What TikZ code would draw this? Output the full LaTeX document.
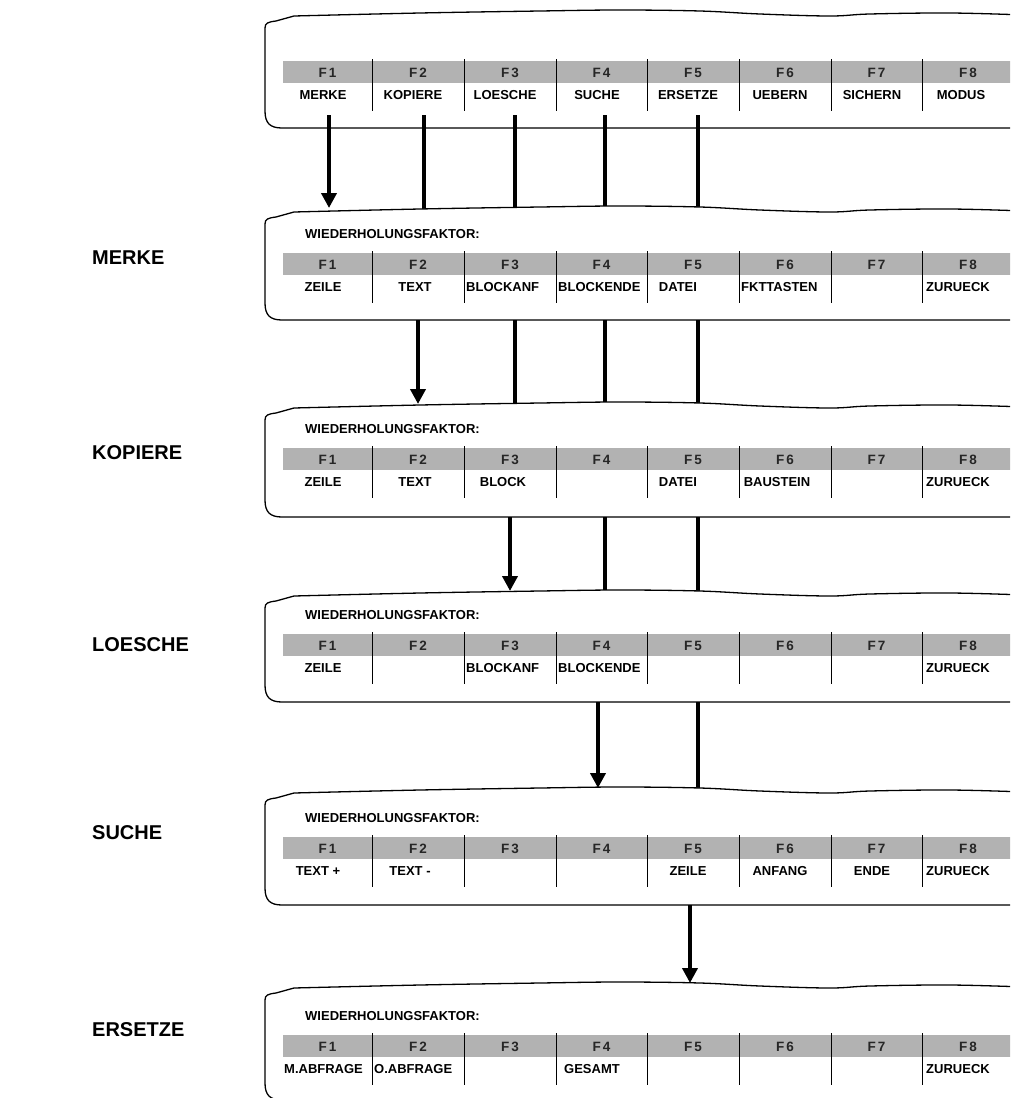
\documentclass[tikz,border=0pt]{standalone}
\usepackage{fontspec}
\setmainfont{Liberation Sans}
\usetikzlibrary{arrows.meta}

\tikzset{
  frame/.style={line width=1.3pt, line join=round, fill=white},
  divider/.style={line width=1pt},
  keytxt/.style={font=\bfseries\fontsize{13}{15}\selectfont, inner sep=0pt},
  fkey/.style={font=\bfseries\fontsize{13.5}{15}\selectfont, inner sep=0pt, anchor=base, text=black!85},
  side/.style={font=\bfseries\fontsize{20}{24}\selectfont, anchor=west, inner sep=0pt},
  flow/.style={line width=4.5pt},
  flowarrow/.style={line width=4.5pt, -{Triangle[width=15pt,length=15pt]}},
  keyshade/.style={fill=black!30},
}

% screen outline: #1 top, #2 bottom
\newcommand\screenframe[2]{%
  \draw[frame] (265,#1+18) .. controls (265,#1+13) and (268,#1+12) .. (276,#1+11)
    -- (294,#1+6)
    -- plot[smooth, tension=0.6] coordinates {(294,#1+6) (420,#1+3) (540,#1+1) (620,#1)
       (700,#1+1) (760,#1+4) (830,#1+6) (870,#1+4) (950,#1+3) (1025,#1+5)}
    -- (1025,#2) -- (282,#2) .. controls (270,#2) and (265,#2-5) .. (265,#2-17) -- cycle;
}

% function key strip: #1 top of the shaded row
\newcommand\keystrip[1]{%
  \fill[keyshade] (283,#1) rectangle (1025,#1+22);
  \foreach \x in {372,464,556,647,739,831,922}
    \draw[divider] (\x,#1-2) -- (\x,#1+50);
  \foreach \c [count=\i] in {327.5,418,510,601.5,693,785,876.5,968}
    \node[fkey] at (\c,#1+16) {F\kern2pt\i};
}

\newcommand\keylabel[3]{\node[keytxt] at (#1,#2+34) {#3};}
\newcommand\keylabelL[3]{\node[keytxt, anchor=west] at (#1,#2+34) {#3};}
\newcommand\factor[1]{\node[keytxt, anchor=west] at (305,#1-19) {WIEDERHOLUNGSFAKTOR:};}

\begin{document}
\begin{tikzpicture}[x=1pt, y=-1pt]
\useasboundingbox (0,0) rectangle (1010,1098);
\clip (0,0) rectangle (1010,1098);

% main menu
\screenframe{10}{128}
\keystrip{61}
\keylabel{323}{61}{MERKE}
\keylabel{413}{61}{KOPIERE}
\keylabel{505}{61}{LOESCHE}
\keylabel{597}{61}{SUCHE}
\keylabel{688}{61}{ERSETZE}
\keylabel{780}{61}{UEBERN}
\keylabel{872}{61}{SICHERN}
\keylabel{961}{61}{MODUS}
\foreach \x [count=\i] in {424,515,605,698} {
  \coordinate (m\i) at (\x,115); \coordinate (n\i) at (\x,214);
  \draw[flow] (m\i) -- (n\i);
}

% MERKE
\node[side] (merke) at (92,258) {MERKE};
\screenframe{206}{320}
\factor{253}
\keystrip{253}
\keylabel{323}{253}{ZEILE}
\keylabel{415}{253}{TEXT}
\keylabelL{466}{253}{BLOCKANF}
\keylabelL{558}{253}{BLOCKENDE}
\keylabel{678}{253}{DATEI}
\keylabelL{741}{253}{FKTTASTEN}
\keylabel{958}{253}{ZURUECK}
\foreach \x [count=\i] in {515,605,698} {
  \coordinate (k\i) at (\x,320); \coordinate (l\i) at (\x,410);
  \draw[flow] (k\i) -- (l\i);
}

% KOPIERE
\node[side] (kopiere) at (92,453) {KOPIERE};
\screenframe{402}{517}
\factor{448}
\keystrip{448}
\keylabel{323}{448}{ZEILE}
\keylabel{415}{448}{TEXT}
\keylabel{503}{448}{BLOCK}
\keylabel{678}{448}{DATEI}
\keylabel{777}{448}{BAUSTEIN}
\keylabel{958}{448}{ZURUECK}
\foreach \x [count=\i] in {605,698} {
  \coordinate (g\i) at (\x,517); \coordinate (h\i) at (\x,598);
  \draw[flow] (g\i) -- (h\i);
}

% LOESCHE
\node[side] (loesche) at (92,645) {LOESCHE};
\screenframe{590}{702}
\factor{634}
\keystrip{634}
\keylabel{323}{634}{ZEILE}
\keylabelL{466}{634}{BLOCKANF}
\keylabelL{558}{634}{BLOCKENDE}
\keylabel{958}{634}{ZURUECK}
\coordinate (e1) at (698,702); \coordinate (f1) at (698,795);
\draw[flow] (e1) -- (f1);

% SUCHE
\node[side] (suche) at (92,833) {SUCHE};
\screenframe{787}{905}
\factor{837}
\keystrip{837}
\keylabel{318}{837}{TEXT +}
\keylabel{410}{837}{TEXT -}
\keylabel{688}{837}{ZEILE}
\keylabel{780}{837}{ANFANG}
\keylabel{872}{837}{ENDE}
\keylabel{958}{837}{ZURUECK}

% ERSETZE
\node[side] (ersetze) at (92,1030) {ERSETZE};
\screenframe{982}{1100}
\factor{1035}
\keystrip{1035}
\keylabelL{284}{1035}{M.ABFRAGE}
\keylabelL{374}{1035}{O.ABFRAGE}
\keylabel{592}{1035}{GESAMT}
\keylabel{958}{1035}{ZURUECK}

% arrows into each submenu
\coordinate (a1) at (329,115); \coordinate (b1) at (329,208);
\coordinate (a2) at (418,320); \coordinate (b2) at (418,404);
\coordinate (a3) at (510,517); \coordinate (b3) at (510,591);
\coordinate (a4) at (598,702); \coordinate (b4) at (598,788);
\coordinate (a5) at (690,905); \coordinate (b5) at (690,983);
\foreach \i in {1,...,5}
  \draw[flowarrow] (a\i) -- (b\i);
\end{tikzpicture}
\end{document}
